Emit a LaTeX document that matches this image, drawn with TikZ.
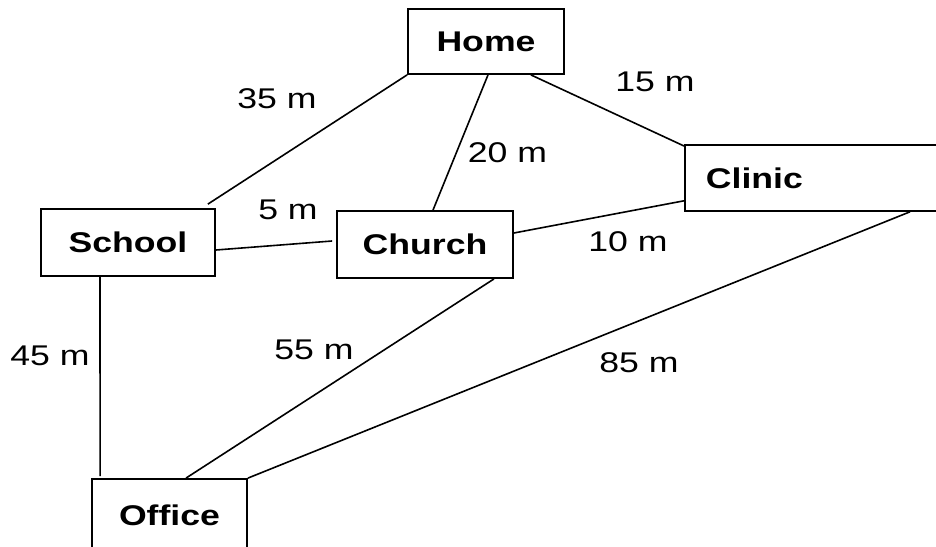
\documentclass[tikz,border=0pt]{standalone}
\usepackage{fontspec}
\setmainfont{Liberation Sans}[FakeStretch=1.25]
\begin{document}
\begin{tikzpicture}[x=1pt,y=-1pt]
	      \tikzstyle{every node}=[font=\fontsize{28.5}{34}\selectfont]
	      \tikzstyle{place}=[draw,line width=1.8pt,inner sep=0pt,font=\fontsize{28.5}{34}\selectfont\bfseries]
	      \tikzstyle{road}=[line width=1.6pt]
	      \useasboundingbox (0,0) rectangle (936,546);
	      \clip (0,0) rectangle (936,546);
	      \node[place,minimum width=156pt,minimum height=65pt](home) at (486,41.5){Home};
	      \node[place,anchor=north west,minimum height=66pt,text width=222pt,inner xsep=21pt,align=left](clinic) at (684,144){Clinic};
	      \node[place,minimum width=174pt,minimum height=67pt](school) at (128,242.5){School};
	      \node[place,minimum width=176pt,minimum height=67pt](church) at (425,244.5){Church};
	      \node[place,minimum width=155pt,minimum height=72pt](office) at (169.5,515){Office};
	      \draw[road](home.south west)--([xshift=-8pt,yshift=4pt]school.north east);
	      \draw[road]([xshift=2pt]home.south)--([xshift=8pt]church.north);
	      \draw[road]([xshift=-34pt]home.south east)--([yshift=-2pt]clinic.north west);
	      \draw[road]([yshift=-7.5pt]school.east)--([xshift=-4pt,yshift=3.5pt]church.west);
	      \draw[road]([yshift=11.5pt]church.east)--([yshift=11pt]clinic.south west);
	      \draw[road]([xshift=226pt]clinic.south west)--(office.north east);
	      \draw[road]([xshift=69pt]church.south)--([xshift=16.5pt]office.north);
	      \draw[road]([xshift=-28pt]school.south)--([xshift=9pt,yshift=2pt]office.north west);
	      \node(d35) at (277,99){35 m};
	      \node(d15) at (655,82){15 m};
	      \node(d20) at (507.5,153){20 m};
	      \node(d5) at (288,210){5 m};
	      \node(d10) at (628,241.5){10 m};
	      \node(d45) at (50,356){45 m};
	      \node(d55) at (314,350){55 m};
	      \node(d85) at (639,363){85 m};
	    \end{tikzpicture}
\end{document}
